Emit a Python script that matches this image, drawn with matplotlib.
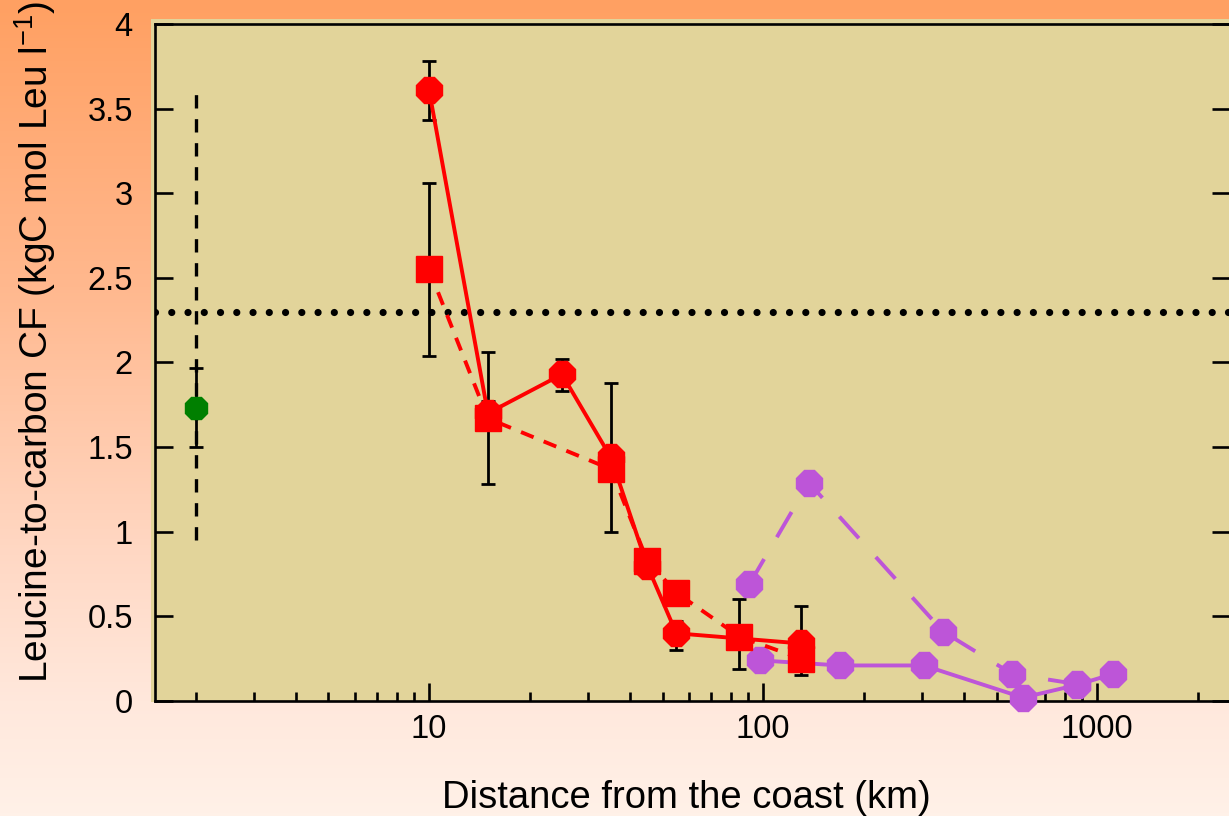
import numpy as np
import matplotlib
matplotlib.use("Agg")
import matplotlib.pyplot as plt
from matplotlib.patches import Rectangle
from matplotlib.colors import LinearSegmentedColormap

plt.rcParams["font.family"] = ["Liberation Sans", "DejaVu Sans"]
plt.rcParams["mathtext.fontset"] = "custom"
plt.rcParams["mathtext.rm"] = "Liberation Sans"
plt.rcParams["mathtext.it"] = "Liberation Sans:italic"
plt.rcParams["mathtext.default"] = "rm"

# ---- data -------------------------------------------------------------
# coastal reference station
green_x = [2]
green_y = [1.73]
green_lo = [1.50]
green_hi = [1.97]
green_range = [0.95, 3.62]

# transect 1 (circles, solid line)
red_circ_x = [10, 15, 25, 35, 45, 55, 130]
red_circ_y = [3.61, 1.70, 1.93, 1.44, 0.80, 0.40, 0.34]
red_circ_lo = [3.43, 1.63, 1.83, 1.00, np.nan, 0.30, 0.155]
red_circ_hi = [3.78, 1.77, 2.02, 1.88, np.nan, 0.47, 0.56]

# transect 2 (squares, dashed line)
red_sq_x = [10, 15, 35, 45, 55, 85, 130]
red_sq_y = [2.55, 1.67, 1.37, 0.83, 0.64, 0.38, 0.25]
red_sq_lo = [2.04, 1.28, np.nan, np.nan, np.nan, 0.19, np.nan]
red_sq_hi = [3.06, 2.06, np.nan, np.nan, np.nan, 0.60, np.nan]

# open ocean transects
purple_dash_x = [91, 137, 346, 557, 870]
purple_dash_y = [0.69, 1.29, 0.41, 0.16, 0.10]
purple_solid_x = [98, 170, 303, 600, 870, 1117]
purple_solid_y = [0.24, 0.21, 0.21, 0.02, 0.095, 0.16]

reference_cf = 2.3

y_ticks = [0, 0.5, 1, 1.5, 2, 2.5, 3, 3.5, 4]
x_ticks = [10, 100, 1000]
x_ticklabels = ["10", "100", "1000"]

# ---- styles -----------------------------------------------------------
RED = "#ff0000"
PURPLE = "#bd55d8"
GREEN = "#007f00"
KHAKI = "#e2d49a"

W, H = 1229, 816
fig = plt.figure(figsize=(W / 100, H / 100), dpi=100)

# page background gradient
bg = fig.add_axes([0, 0, 1, 1], zorder=-10)
bg.set_axis_off()
grad_cmap = LinearSegmentedColormap.from_list(
    "page",
    [(0.0, "#ffa062"), (0.35, "#ffb88e"), (0.68, "#ffd8c4"),
     (0.86, "#ffe8dc"), (1.0, "#fff1e8")])
grad = np.linspace(0, 1, 256).reshape(-1, 1)
bg.imshow(grad, aspect="auto", cmap=grad_cmap, extent=[0, 1, 0, 1],
          origin="upper")
bg.set_xlim(0, 1)
bg.set_ylim(0, 1)
bg.add_patch(Rectangle((151 / W, 1 - 702 / H), 1, (702 - 19) / H,
                       facecolor=KHAKI, edgecolor="none",
                       transform=bg.transAxes))

left, right, top, bottom = 155, 1230, 24, 701
ax = fig.add_axes([left / W, 1 - bottom / H, (right - left) / W,
                   (bottom - top) / H])
ax.set_facecolor(KHAKI)
ax.set_xscale("log")
ax.set_xlim(1.512, 2500)
ax.set_ylim(0, 4)


def err(y, lo, hi):
    y = np.asarray(y, float)
    lo = np.asarray(lo, float)
    hi = np.asarray(hi, float)
    m = ~np.isnan(lo)
    return m, np.vstack([y[m] - lo[m], hi[m] - y[m]])


err_kw = dict(fmt="none", ecolor="black", elinewidth=2.0, capsize=5,
              capthick=2.0, zorder=3)

LW = 2.8
MS = 20

# reference horizontal dotted line
ax.axhline(reference_cf, color="black", lw=5.2, linestyle=(0, (0.001, 2.25)),
           dash_capstyle="round", zorder=2)

# purple transects
ax.plot(purple_dash_x, purple_dash_y, color=PURPLE, lw=LW,
        linestyle=(0, (7.5, 6.5)), marker="8", ms=MS, mec=PURPLE,
        mfc=PURPLE, zorder=4, clip_on=False)
ax.plot(purple_solid_x, purple_solid_y, color=PURPLE, lw=LW, marker="8",
        ms=MS, mec=PURPLE, mfc=PURPLE, zorder=4, clip_on=False)

# green station: range (dashed) and error bar
ax.plot([green_x[0], green_x[0]], green_range, color="black", lw=2.4,
        linestyle=(0, (4, 3.2)), zorder=3)
gm, gerr = err(green_y, green_lo, green_hi)
ax.errorbar(np.array(green_x)[gm], np.array(green_y)[gm], yerr=gerr, **err_kw)
ax.plot(green_x, green_y, linestyle="none", marker="8", ms=17, color=GREEN,
        zorder=6)

# red transects
m, e = err(red_sq_y, red_sq_lo, red_sq_hi)
ax.errorbar(np.array(red_sq_x)[m], np.array(red_sq_y)[m], yerr=e, **err_kw)
m, e = err(red_circ_y, red_circ_lo, red_circ_hi)
ax.errorbar(np.array(red_circ_x)[m], np.array(red_circ_y)[m], yerr=e, **err_kw)

ax.plot(red_circ_x, red_circ_y, color=RED, lw=LW, marker="8", ms=MS,
        mec=RED, mfc=RED, zorder=5)
ax.plot(red_sq_x, red_sq_y, color=RED, lw=LW, linestyle=(0, (3.5, 2.8)),
        marker="s", ms=19, mec=RED, mfc=RED, zorder=5)

# ---- axes styling -----------------------------------------------------
for side in ("left", "bottom", "top"):
    ax.spines[side].set_linewidth(1.9)
    ax.spines[side].set_color("black")
ax.spines["right"].set_visible(False)

ax.set_yticks(y_ticks)
ax.set_yticklabels([f"{v:g}" for v in y_ticks])
ax.set_xticks(x_ticks)
ax.set_xticklabels(x_ticklabels)
ax.xaxis.set_minor_locator(matplotlib.ticker.LogLocator(base=10,
                                                        subs=np.arange(2, 10)))
ax.xaxis.set_minor_formatter(matplotlib.ticker.NullFormatter())

ax.tick_params(axis="both", which="major", direction="in", length=13,
               width=1.9, labelsize=23.5, colors="black")
ax.tick_params(axis="x", which="minor", direction="in", length=6.5,
               width=1.9)
ax.tick_params(axis="y", which="both", left=True, right=True, pad=16)
ax.tick_params(axis="x", which="both", top=False, pad=9)

ax.set_xlabel("Distance from the coast (km)", fontsize=27.5)
ax.xaxis.set_label_coords(0.494, -0.116)
ax.set_ylabel("Leucine-to-carbon CF (kgC mol Leu l$^{-1}$)", fontsize=28)
ax.yaxis.set_label_coords(-0.090, 0.530)

fig.savefig("out.png", dpi=100)
